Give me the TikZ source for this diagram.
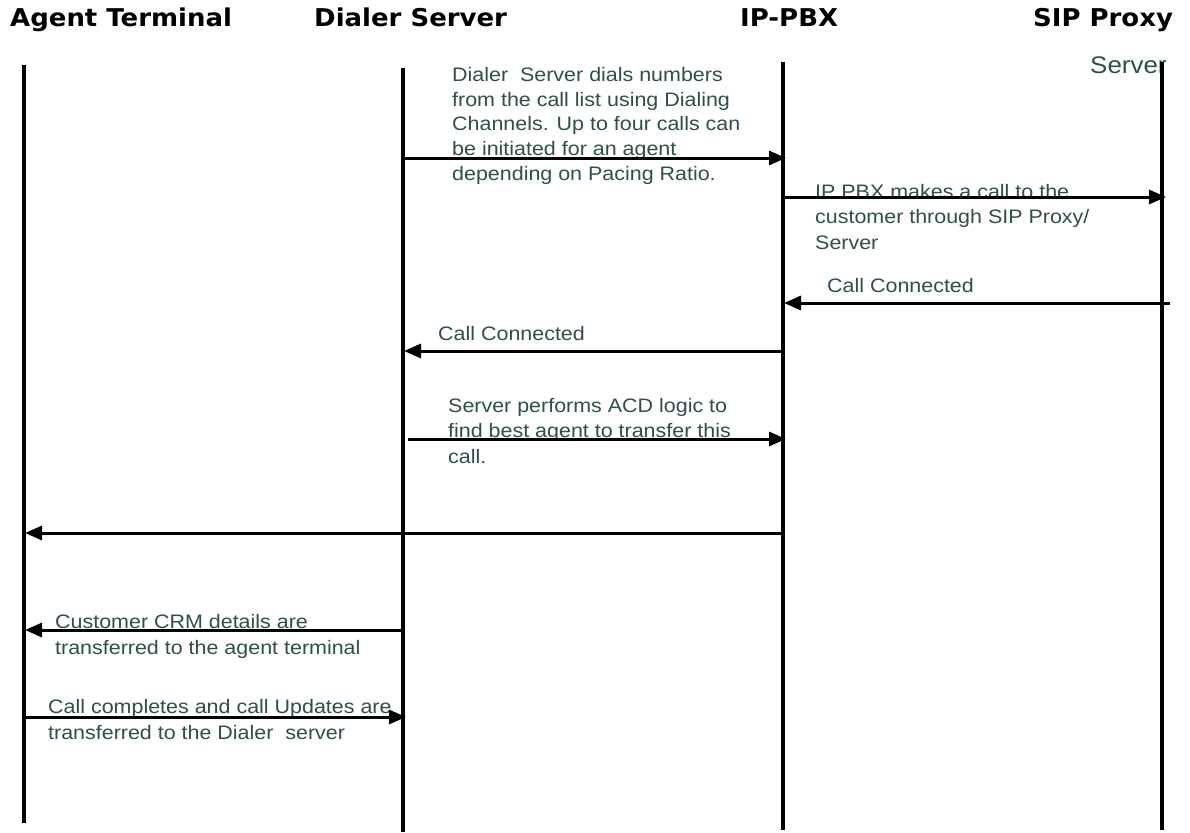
\documentclass[tikz,border=0pt]{standalone}
\usepackage{fontspec}
\setmainfont{Liberation Sans}
\newfontfamily\hdrfont[FakeStretch=1.06]{DejaVu Sans}
\newfontfamily\bodyfont[FakeStretch=1.10]{Liberation Sans}
\newfontfamily\srvfont[FakeStretch=1.08]{Liberation Sans}
\usetikzlibrary{arrows.meta}
\definecolor{txt}{RGB}{45,80,76}
\tikzset{
  hdr/.style={anchor=base west,inner sep=0pt,font=\hdrfont\bfseries\fontsize{24.5}{28}\selectfont},
  msg/.style={anchor=north west,inner sep=0pt,align=left,text=txt,font=\bodyfont\fontsize{19.5}{25.5}\selectfont},
  life/.style={line width=4pt},
  arr/.style={line width=3pt,-{Triangle[length=17pt,width=14pt]}},
}
\begin{document}
\begin{tikzpicture}[x=1pt,y=-1pt]
\useasboundingbox[fill=white] (0,0) rectangle (1190,832);
% headers
\node[hdr] (hA) at (10,27) {Agent Terminal};
\node[hdr] (hD) at (314,27) {Dialer Server};
\node[hdr] (hI) at (740,27) {IP-PBX};
\node[hdr] (hS) at (1033,27) {SIP Proxy};
% texts
\node[msg,anchor=base west,font=\srvfont\fontsize{24}{28}\selectfont] (tS) at (1090,74) {Server};
\node[msg,font=\bodyfont\fontsize{19.5}{24.75}\selectfont] (t1) at (452,67) {Dialer\ \ Server dials numbers\\from the call list using Dialing\\Channels. Up to four calls can\\be initiated for an agent\\depending on Pacing Ratio.};
\node[msg] (t2) at (815,184) {IP PBX makes a call to the\\customer through SIP Proxy/\\Server};
\node[msg] (t3) at (827,278) {Call Connected};
\node[msg] (t4) at (438,326) {Call Connected};
\node[msg] (t5) at (448,398) {Server performs ACD logic to\\find best agent to transfer this\\call.};
\node[msg,font=\bodyfont\fontsize{19.5}{26}\selectfont] (t7) at (55,614) {Customer CRM details are\\transferred to the agent terminal};
\node[msg,font=\bodyfont\fontsize{19.5}{26}\selectfont] (t8) at (48,699) {Call completes and call Updates are\\transferred to the Dialer\ \ server};
% lifelines
\coordinate (At) at (24,65);  \coordinate (Ab) at (24,823);
\coordinate (Dt) at (403,68); \coordinate (Db) at (403,832);
\coordinate (It) at (783,62); \coordinate (Ib) at (783,830);
\coordinate (St) at (1162,62); \coordinate (Sb) at (1162,830);
\draw[life] (At) -- (Ab);
\draw[life] (Dt) -- (Db);
\draw[life] (It) -- (Ib);
\draw[life] (St) -- (Sb);
% message points
\coordinate (m1a) at (405,158); \coordinate (m1b) at (786,158);
\coordinate (m2a) at (785,197); \coordinate (m2b) at (1166,197);
\coordinate (m3a) at (1170,303); \coordinate (m3b) at (784,303);
\coordinate (m4a) at (783,351); \coordinate (m4b) at (404,351);
\coordinate (m5a) at (408,439); \coordinate (m5b) at (786,439);
\coordinate (m6a) at (783,533); \coordinate (m6b) at (25,533);
\coordinate (m7a) at (403,630); \coordinate (m7b) at (25,630);
\coordinate (m8a) at (24,717); \coordinate (m8b) at (406,717);
\draw[arr] (m1a) -- (m1b);
\draw[arr] (m2a) -- (m2b);
\draw[arr] (m3a) -- (m3b);
\draw[arr] (m4a) -- (m4b);
\draw[arr] (m5a) -- (m5b);
\draw[arr] (m6a) -- (m6b);
\draw[arr] (m7a) -- (m7b);
\draw[arr] (m8a) -- (m8b);
\end{tikzpicture}
\end{document}
